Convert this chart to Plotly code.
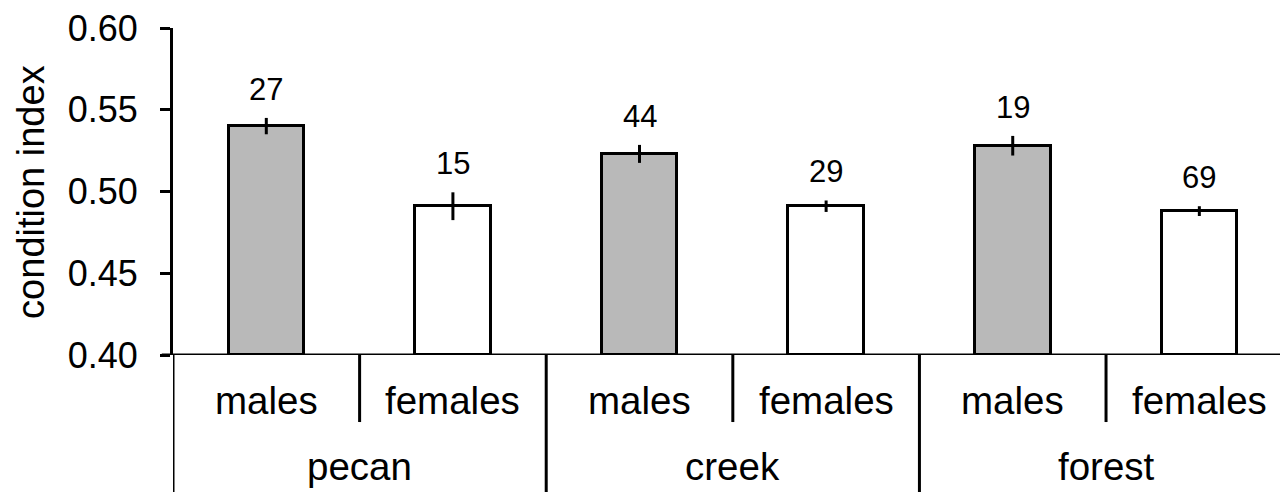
import plotly.graph_objects as go

sites = ["pecan", "creek", "forest"]
sexes = ["males", "females"]
means = [0.540, 0.491, 0.523, 0.491, 0.528, 0.488]
errors = [0.005, 0.0085, 0.0055, 0.0035, 0.006, 0.003]
counts = ["27", "15", "44", "29", "19", "69"]
bar_colors = ["#B9B9B9", "#FFFFFF", "#B9B9B9", "#FFFFFF", "#B9B9B9", "#FFFFFF"]
yticks = [0.40, 0.45, 0.50, 0.55, 0.60]
ytick_labels = ["0.40", "0.45", "0.50", "0.55", "0.60"]

FONT = "Liberation Sans, Arial, sans-serif"
n = len(means)
xpos = list(range(n))

fig = go.Figure()
fig.add_trace(go.Bar(
    x=xpos, y=[m - 0.40 for m in means], base=0.40,
    width=0.405,
    marker=dict(color=bar_colors, line=dict(color="black", width=3)),
    error_y=dict(type="data", array=errors, visible=True, color="black",
                 thickness=3, width=0),
    hoverinfo="skip",
))

annotations = []
for i in range(n):
    annotations.append(dict(
        x=xpos[i], y=means[i] + errors[i], xref="x", yref="y",
        text=counts[i], showarrow=False, yanchor="bottom", yshift=9,
        font=dict(size=31, color="black", family=FONT)))

shapes = []
shapes.append(dict(type="line", xref="x", yref="paper", x0=-0.5, x1=-0.5,
                   y0=0, y1=-0.45, line=dict(color="black", width=3)))
for g, site in enumerate(sites):
    for s, sex in enumerate(sexes):
        i = g * 2 + s
        annotations.append(dict(
            x=xpos[i], y=-0.14, xref="x", yref="paper", text=sex,
            showarrow=False, yanchor="middle",
            font=dict(size=38.5, color="black", family=FONT)))
    shapes.append(dict(type="line", xref="x", yref="paper",
                       x0=g * 2 + 0.5, x1=g * 2 + 0.5, y0=0, y1=-0.205,
                       line=dict(color="black", width=3)))
    if g < len(sites) - 1:
        shapes.append(dict(type="line", xref="x", yref="paper",
                           x0=g * 2 + 1.5, x1=g * 2 + 1.5, y0=0, y1=-0.45,
                           line=dict(color="black", width=3)))
    annotations.append(dict(
        x=g * 2 + 0.5, y=-0.34, xref="x", yref="paper", text=site,
        showarrow=False, yanchor="middle",
        font=dict(size=38.5, color="black", family=FONT)))

annotations.append(dict(
    x=-0.127, y=0.5, xref="paper", yref="paper", text="condition index",
    textangle=-90, showarrow=False, xanchor="center", yanchor="middle",
    font=dict(size=38, color="black", family=FONT)))

fig.update_layout(
    width=1288, height=492,
    margin=dict(l=165, r=0, t=12, b=145),
    plot_bgcolor="white", paper_bgcolor="white",
    showlegend=False,
    font=dict(family=FONT, color="black"),
    bargap=0,
    xaxis=dict(range=[-0.5, 5.518], showticklabels=False, ticks="",
               showgrid=False, zeroline=False, showline=False),
    yaxis=dict(range=[0.40, 0.60], tickvals=yticks, ticktext=ytick_labels,
               ticks="outside", ticklen=10, tickwidth=3, tickcolor="black",
               showline=True, linecolor="black", linewidth=3,
               showgrid=False, zeroline=False, ticklabelstandoff=15,
               ticklabeloverflow="allow",
               tickfont=dict(size=36, color="black", family=FONT)),
    annotations=annotations,
    shapes=shapes,
)
fig.add_shape(type="line", xref="paper", yref="y", x0=-0.01, x1=1,
              y0=0.40, y1=0.40, line=dict(color="black", width=3))

fig.write_html("out.html")
